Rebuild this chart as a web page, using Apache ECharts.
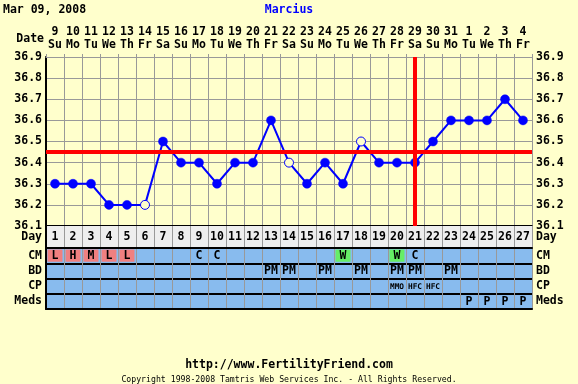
<!DOCTYPE html>
<html><head><meta charset="utf-8">
<script src="https://cdn.jsdelivr.net/npm/echarts@6/dist/echarts.min.js"></script>
<style>html,body{margin:0;padding:0;background:#ffffcc;}#c{width:578px;height:384px;}</style>
</head><body><div id="c"></div>
<script>
const cycleDays = [1,2,3,4,5,6,7,8,9,10,11,12,13,14,15,16,17,18,19,20,21,22,23,24,25,26,27];
const dates = ['9','10','11','12','13','14','15','16','17','18','19','20','21','22','23','24','25','26','27','28','29','30','31','1','2','3','4'];
const weekdays = ['Su','Mo','Tu','We','Th','Fr','Sa','Su','Mo','Tu','We','Th','Fr','Sa','Su','Mo','Tu','We','Th','Fr','Sa','Su','Mo','Tu','We','Th','Fr'];
const temps = [36.3,36.3,36.3,36.2,36.2,36.2,36.5,36.4,36.4,36.3,36.4,36.4,36.6,36.4,36.3,36.4,36.3,36.5,36.4,36.4,36.4,36.5,36.6,36.6,36.6,36.7,36.6];
const openDays = [6,14,18];
const coverline = 36.45;
const ovulationDay = 21;
const tempTicks = {min:36.1, max:36.9, step:0.1};
const rowNames = ['CM','BD','CP','Meds'];
const cmRow   = ['L','H','M','L','L','','','','C','C','','','','','','','W','','','W','C','','','','','',''];
const bdRow   = ['','','','','','','','','','','','','PM','PM','','PM','','PM','','PM','PM','','PM','','','',''];
const cpRow   = ['','','','','','','','','','','','','','','','','','','','MMO','HFC','HFC','','','','',''];
const medsRow = ['','','','','','','','','','','','','','','','','','','','','','','','P','P','P','P'];

const BG='#ffffcc', BLUE_CELL='#88bbee', GRAY='#999999';
const FONT='DejaVu Sans Mono';
const cmColor = {L:'#f08080',H:'#f08080',M:'#f08080',W:'#66ee66'};

const rows=[cmRow,bdRow,cpRow,medsRow];
const cells=[];
rows.forEach((r,ri)=>r.forEach((t,ci)=>cells.push({ci,ri,t,color: ri===0 ? cmColor[t] : null, small: ri===2})));
const dayCells = cycleDays.map((d,i)=>({ci:i,ri:0,t:String(d)}));

function cellRender(list, fill){
  return function(params, api){
    const it=list[params.dataIndex];
    const c=api.coord([it.ci,it.ri]);
    const s=api.size([1,1]);
    const ch=[{type:'rect',shape:{x:c[0]-s[0]/2,y:c[1]-s[1]/2,width:s[0],height:s[1]},style:{fill:fill}}];
    if(it.color){ch.push({type:'rect',shape:{x:c[0]-s[0]/2+1.5,y:c[1]-s[1]/2+1.5,width:s[0]-3,height:s[1]-3},style:{fill:it.color}});}
    if(it.t){ch.push({type:'text',x:c[0],y:c[1]+0.5,style:{text:it.t,fill:'#000',font:(it.small?'bold 7.8px ':'bold 11.5px ')+FONT,align:'center',verticalAlign:'middle'}});}
    return {type:'group',children:ch};
  };
}

const chart=echarts.init(document.getElementById('c'),null,{renderer:'canvas'});
const lab={color:'#000',fontFamily:FONT,fontWeight:'bold',fontSize:11.5};
const vSplit={show:true,interval:0,lineStyle:{color:GRAY,width:1}};
chart.setOption({
  backgroundColor:BG,
  animation:false,
  textStyle:{fontFamily:FONT},
  graphic:[
    {type:'text',left:3,top:4,style:{text:'Mar 09, 2008',fill:'#000',font:'bold 11.5px '+FONT}},
    {type:'text',left:'center',top:4,style:{text:'Marcius',fill:'#0000ff',font:'bold 11.5px '+FONT}},
    {type:'text',right:534,top:33,style:{text:'Date',fill:'#000',font:'bold 11.5px '+FONT,align:'right'}},
    {type:'text',left:'center',top:359,style:{text:'http://www.FertilityFriend.com',fill:'#000',font:'bold 11.5px '+FONT}},
    {type:'text',left:'center',top:376,style:{text:'Copyright 1998-2008 Tamtris Web Services Inc. - All Rights Reserved.',fill:'#000',font:'8.2px '+FONT}}
  ],
  grid:[
    {left:46,top:57,width:486,height:169},
    {left:46,top:226,width:486,height:22},
    {left:46,top:248,width:486,height:61}
  ],
  xAxis:[
    {gridIndex:0,type:'category',position:'top',data:cycleDays,boundaryGap:true,
     axisLine:{lineStyle:{color:GRAY,width:1}},axisTick:{show:true,interval:0,length:3,lineStyle:{color:GRAY}},
     splitLine:vSplit,
     axisLabel:{interval:0,margin:5,formatter:(v,i)=>dates[i]+'\n'+weekdays[i],lineHeight:13,...lab}},
    {gridIndex:0,type:'category',position:'bottom',data:cycleDays,axisLine:{lineStyle:{color:'#000',width:2}},axisTick:{show:false},axisLabel:{show:false}},
    {gridIndex:1,type:'category',position:'bottom',data:cycleDays,z:10,axisLine:{lineStyle:{color:'#000',width:2}},axisTick:{show:false},axisLabel:{show:false,interval:0},splitLine:vSplit},
    {gridIndex:2,type:'category',position:'bottom',data:cycleDays,z:10,axisLine:{lineStyle:{color:'#000',width:2}},axisTick:{show:false},axisLabel:{show:false,interval:0},splitLine:vSplit}
  ],
  yAxis:[
    {gridIndex:0,type:'value',position:'left',min:tempTicks.min,max:tempTicks.max,interval:tempTicks.step,
     axisLine:{show:true,lineStyle:{color:'#000',width:2}},axisTick:{show:false},
     splitLine:{show:true,lineStyle:{color:GRAY,width:1}},axisLabel:{margin:4,formatter:v=>v.toFixed(1),...lab}},
    {gridIndex:0,type:'value',position:'right',min:tempTicks.min,max:tempTicks.max,interval:tempTicks.step,
     axisLine:{show:true,lineStyle:{color:GRAY,width:1}},axisTick:{show:false},splitLine:{show:false},
     axisLabel:{margin:4,formatter:v=>v.toFixed(1),...lab}},
    {gridIndex:1,type:'category',position:'left',data:['Day'],z:10,axisLine:{lineStyle:{color:'#000',width:2}},axisTick:{show:false},axisLabel:{margin:4,interval:0,...lab}},
    {gridIndex:1,type:'category',position:'right',data:['Day'],z:10,axisLine:{lineStyle:{color:GRAY,width:1}},axisTick:{show:false},axisLabel:{margin:4,interval:0,...lab}},
    {gridIndex:2,type:'category',position:'left',inverse:true,data:rowNames,z:10,axisLine:{lineStyle:{color:'#000',width:2}},axisTick:{show:false},
     splitLine:{show:true,interval:0,lineStyle:{color:'#000',width:2}},axisLabel:{margin:4,interval:0,...lab}},
    {gridIndex:2,type:'category',position:'right',inverse:true,data:rowNames,z:10,axisLine:{lineStyle:{color:GRAY,width:1}},axisTick:{show:false},axisLabel:{margin:4,interval:0,...lab}}
  ],
  series:[
    {type:'line',xAxisIndex:0,yAxisIndex:0,
     data:temps.map((t,i)=>{
       const open=openDays.includes(cycleDays[i]);
       return {value:t,itemStyle:open?{color:BG,borderColor:'#0000ff',borderWidth:1}:{color:'#0000ff',borderColor:'#0000ff',borderWidth:0.5}};
     }),
     symbol:'circle',symbolSize:9,showAllSymbol:true,
     lineStyle:{color:'#0000ff',width:2},
     markLine:{silent:true,symbol:'none',label:{show:false},z:5,
       lineStyle:{color:'#ff0000',width:4,type:'solid'},
       data:[{yAxis:coverline},{xAxis:ovulationDay-1}]}},
    {type:'custom',xAxisIndex:2,yAxisIndex:2,renderItem:cellRender(dayCells,'#eeeeee'),data:dayCells.map(c=>[c.ci,c.ri])},
    {type:'custom',xAxisIndex:3,yAxisIndex:4,renderItem:cellRender(cells,BLUE_CELL),data:cells.map(c=>[c.ci,c.ri])}
  ]
});
</script></body></html>
